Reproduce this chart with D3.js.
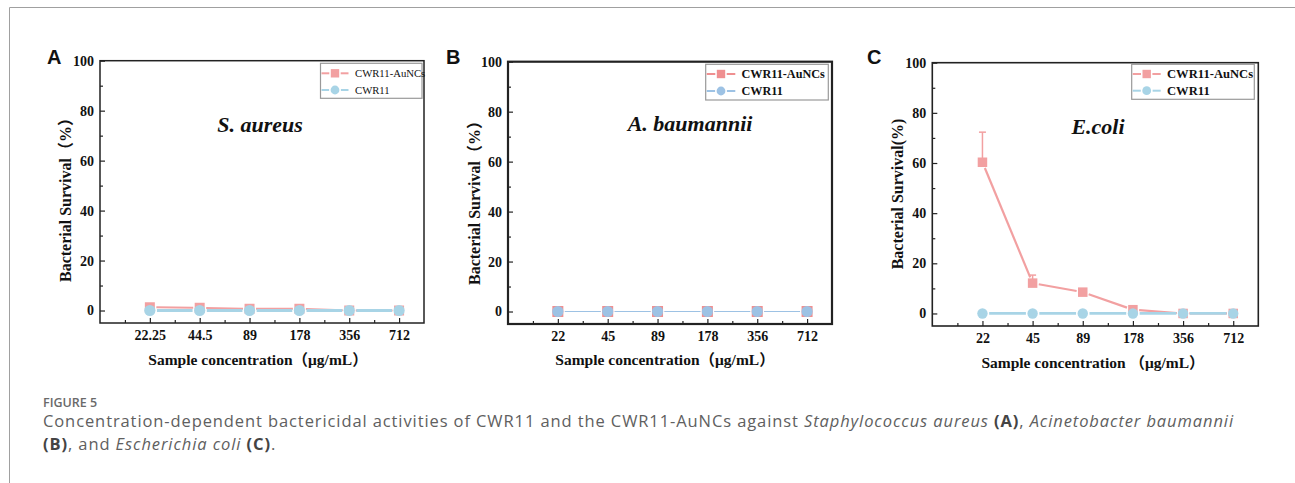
<!DOCTYPE html>
<html>
<head>
<meta charset="utf-8">
<script src="https://cdn.jsdelivr.net/npm/d3@7"></script>
<style>
body { margin: 0; background: #fff; }
.serif { font-family: "Liberation Serif", "Noto Sans CJK SC", serif; }
</style>
</head>
<body>
<svg id="fig" width="1295" height="483"></svg>
<script>
// concentrations (x categories)
const concA = ["22.25", "44.5", "89", "178", "356", "712"];
const concBC = ["22", "45", "89", "178", "356", "712"];
const yTicks = [0, 20, 40, 60, 80, 100];
const yMinorTicks = [10, 30, 50, 70, 90];
const seriesNames = ["CWR11-AuNCs", "CWR11"];

// A - S. aureus
const aureusAuNCs = [1.3, 1.1, 0.7, 0.7, 0, 0];
const aureusAuNCsErr = [1.4, 1.2, 1.0, 1.0, 0, 0];
const aureusCWR11 = [0, 0, 0, 0, 0, 0];

// B - A. baumannii
const baumanniiAuNCs = [0, 0, 0, 0, 0, 0];
const baumanniiAuNCsErr = [0, 0, 0, 0, 0, 0];
const baumanniiCWR11 = [0, 0, 0, 0, 0, 0];

// C - E. coli
const coliAuNCs = [60.3, 12.1, 8.5, 1.5, 0, 0];
const coliAuNCsErr = [12, 3.2, 1.3, 0.4, 0, 0];
const coliCWR11 = [0, 0, 0, 0, 0, 0];

const svg = d3.select("#fig");

// outer frame of the figure
svg.append("path").attr("d", "M9.5,483 V7.5 H1295")
    .attr("fill", "none").attr("stroke", "#a0a0a0").attr("stroke-width", 1);

const panels = [
    {label: "A", labelX: 47, cats: concA, title: "S. aureus", titleX: 260, titleY: 131.5,
     yLabel: "Bacterial Survival（%）", yLabelX: 65.5, yLabelY: 196, yLabelSize: 16,
     xLabel: "Sample concentration（μg/mL）", xLabelX: 258, xLabelY: 365, xLabelSize: 15.5,
     auncs: aureusAuNCs, err: aureusAuNCsErr, cwr: aureusCWR11,
     box: {l: 100, t: 60.7, r: 424, b: 323}, frameW: 1.5,
     pink: "#f2a0a1", blue: "#a8d4e6", pinkW: 2, blueW: 2.8, sq: 10, rad: 5.6,
     leg: {l: 320.5, t: 63.3, r: 422, b: 98.3, row1: 73.3, row2: 90, mx: 335, tx: 355, size: 10.7, weight: "normal"}},
    {label: "B", labelX: 446, cats: concBC, title: "A. baumannii", titleX: 690, titleY: 131,
     yLabel: "Bacterial Survival（%）", yLabelX: 474, yLabelY: 199, yLabelSize: 16,
     xLabel: "Sample concentration（μg/mL）", xLabelX: 665, xLabelY: 365, xLabelSize: 15.5,
     auncs: baumanniiAuNCs, err: baumanniiAuNCsErr, cwr: baumanniiCWR11,
     box: {l: 508, t: 61.7, r: 832, b: 324}, frameW: 2.2,
     pink: "#ef8f90", blue: "#9dc2e4", pinkW: 1, blueW: 1.2, sq: 11, rad: 5.6,
     leg: {l: 705.7, t: 64.3, r: 828.3, b: 100, row1: 74, row2: 91, mx: 721, tx: 741.5, size: 12.2, weight: "bold"}},
    {label: "C", labelX: 867, cats: concBC, title: "E.coli", titleX: 1098, titleY: 134,
     yLabel: "Bacterial Survival(%)", yLabelX: 897, yLabelY: 194, yLabelSize: 16,
     xLabel: "Sample concentration （μg/mL）", xLabelX: 1093, xLabelY: 368, xLabelSize: 15.5,
     auncs: coliAuNCs, err: coliAuNCsErr, cwr: coliCWR11,
     box: {l: 932.3, t: 62.7, r: 1258.3, b: 326}, frameW: 1.6,
     pink: "#f2a0a1", blue: "#a8d4e6", pinkW: 2.2, blueW: 2.8, sq: 9.5, rad: 5.2,
     leg: {l: 1131.7, t: 64.3, r: 1254.3, b: 99.3, row1: 74, row2: 90.7, mx: 1146.7, tx: 1167, size: 12.6, weight: "bold"}}
];

function segmentsWithGap(pts, gap) {
    const segs = [];
    for (let i = 0; i < pts.length - 1; i++) {
        const [x1, y1] = pts[i], [x2, y2] = pts[i + 1];
        const len = Math.hypot(x2 - x1, y2 - y1);
        if (len <= 2 * gap) continue;
        const ux = (x2 - x1) / len, uy = (y2 - y1) / len;
        segs.push([x1 + ux * gap, y1 + uy * gap, x2 - ux * gap, y2 - uy * gap]);
    }
    return segs;
}

function drawPanel(p) {
    const g = svg.append("g").attr("class", "serif");
    const x = d3.scaleLinear([-1, 5.5], [p.box.l, p.box.r]);
    const y = d3.scaleLinear([-5, 100], [p.box.b, p.box.t]);
    const idx = d3.range(p.cats.length);

    // x axis, ticks inside
    g.append("g").attr("transform", `translate(0,${p.box.b})`)
        .call(d3.axisBottom(x).tickValues(idx).tickFormat(i => p.cats[i]).tickSize(-5).tickPadding(7));
    g.append("g").attr("transform", `translate(0,${p.box.b})`)
        .call(d3.axisBottom(x).tickValues(idx.map(i => i - 0.5)).tickFormat("").tickSize(-3));
    g.append("g").attr("transform", `translate(${p.box.l},0)`)
        .call(d3.axisLeft(y).tickValues(yTicks).tickSize(-5).tickPadding(6));
    g.append("g").attr("transform", `translate(${p.box.l},0)`)
        .call(d3.axisLeft(y).tickValues(yMinorTicks).tickFormat("").tickSize(-3));
    g.selectAll(".domain").remove();
    g.selectAll(".tick line").attr("stroke", "#222").attr("stroke-width", 1.2);
    g.selectAll(".tick text").attr("font-family", "Liberation Serif").attr("font-weight", "bold")
        .attr("font-size", 14).attr("fill", "#111");

    // frame
    g.append("rect").attr("x", p.box.l).attr("y", p.box.t)
        .attr("width", p.box.r - p.box.l).attr("height", p.box.b - p.box.t)
        .attr("fill", "none").attr("stroke", "#222").attr("stroke-width", p.frameW);

    // pink series: lines, error bars, squares
    const pinkPts = idx.map(i => [x(i), y(p.auncs[i])]);
    g.append("g").selectAll("line").data(segmentsWithGap(pinkPts, p.sq / 2 + 1.5)).enter().append("line")
        .attr("x1", d => d[0]).attr("y1", d => d[1]).attr("x2", d => d[2]).attr("y2", d => d[3])
        .attr("stroke", p.pink).attr("stroke-width", p.pinkW);
    const errG = g.append("g").attr("stroke", p.pink).attr("stroke-width", 1.5);
    idx.filter(i => p.err[i] > 0).forEach(i => {
        errG.append("line").attr("x1", x(i)).attr("x2", x(i))
            .attr("y1", y(p.auncs[i])).attr("y2", y(p.auncs[i] + p.err[i]));
        errG.append("line").attr("x1", x(i) - 3.5).attr("x2", x(i) + 3.5)
            .attr("y1", y(p.auncs[i] + p.err[i])).attr("y2", y(p.auncs[i] + p.err[i]));
    });
    g.append("g").selectAll("rect").data(idx).enter().append("rect")
        .attr("x", i => x(i) - p.sq / 2).attr("y", i => y(p.auncs[i]) - p.sq / 2)
        .attr("width", p.sq).attr("height", p.sq).attr("fill", p.pink);

    // blue series
    const bluePts = idx.map(i => [x(i), y(p.cwr[i])]);
    g.append("g").selectAll("line").data(segmentsWithGap(bluePts, p.rad + 1.5)).enter().append("line")
        .attr("x1", d => d[0]).attr("y1", d => d[1]).attr("x2", d => d[2]).attr("y2", d => d[3])
        .attr("stroke", p.blue).attr("stroke-width", p.blueW);
    g.append("g").selectAll("circle").data(idx).enter().append("circle")
        .attr("cx", i => x(i)).attr("cy", i => y(p.cwr[i])).attr("r", p.rad).attr("fill", p.blue);

    // legend
    const L = p.leg;
    g.append("rect").attr("x", L.l).attr("y", L.t).attr("width", L.r - L.l).attr("height", L.b - L.t)
        .attr("fill", "#fff").attr("stroke", "#999").attr("stroke-width", 1.2);
    [[L.row1, p.pink, "sq"], [L.row2, p.blue, "ci"]].forEach(([ry, col, kind], k) => {
        const ms = kind === "sq" ? 4.2 : 4.4;
        g.append("line").attr("x1", L.l + 1).attr("x2", L.mx - ms - 1.5).attr("y1", ry).attr("y2", ry)
            .attr("stroke", col).attr("stroke-width", 2);
        g.append("line").attr("x1", L.mx + ms + 1.5).attr("x2", 2 * L.mx - L.l - 1).attr("y1", ry).attr("y2", ry)
            .attr("stroke", col).attr("stroke-width", 2);
        if (kind === "sq") {
            g.append("rect").attr("x", L.mx - ms).attr("y", ry - ms).attr("width", 2 * ms).attr("height", 2 * ms).attr("fill", col);
        } else {
            g.append("circle").attr("cx", L.mx).attr("cy", ry).attr("r", ms).attr("fill", col);
        }
        g.append("text").attr("x", L.tx).attr("y", ry).attr("dy", "0.35em")
            .attr("font-size", L.size).attr("font-weight", L.weight).attr("fill", "#111")
            .text(seriesNames[k]);
    });

    // species title
    g.append("text").attr("x", p.titleX).attr("y", p.titleY).attr("text-anchor", "middle")
        .attr("font-size", 22).attr("font-weight", "bold").attr("font-style", "italic").attr("fill", "#111")
        .text(p.title);

    // axis titles
    g.append("text").attr("transform", `translate(${p.yLabelX},${p.yLabelY}) rotate(-90)`)
        .attr("text-anchor", "middle").attr("dy", "0.35em")
        .attr("font-size", p.yLabelSize).attr("font-weight", "bold").attr("fill", "#111")
        .text(p.yLabel);
    g.append("text").attr("x", p.xLabelX).attr("y", p.xLabelY).attr("text-anchor", "middle")
        .attr("font-size", p.xLabelSize).attr("font-weight", "bold").attr("fill", "#111")
        .text(p.xLabel);

    // panel letter
    svg.append("text").attr("x", p.labelX).attr("y", 64)
        .attr("font-family", "Liberation Sans, Arial, sans-serif").attr("font-size", 20)
        .attr("font-weight", "bold").attr("fill", "#111").text(p.label);
}

panels.forEach(drawPanel);

// caption
const cap = svg.append("g").attr("font-family", "Open Sans, sans-serif").attr("fill", "#606060");
cap.append("text").attr("x", 43).attr("y", 407).attr("font-size", 12.5).attr("font-weight", 600)
    .attr("fill", "#6a6a6a").text("FIGURE 5");
const line1 = cap.append("text").attr("x", 43).attr("y", 427).attr("font-size", 16.5).attr("letter-spacing", 0.9);
line1.append("tspan").text("Concentration-dependent bactericidal activities of CWR11 and the CWR11-AuNCs against ");
line1.append("tspan").attr("font-style", "italic").text("Staphylococcus aureus");
line1.append("tspan").text(" ");
line1.append("tspan").attr("font-weight", "bold").attr("fill", "#444").text("(A)");
line1.append("tspan").text(", ");
line1.append("tspan").attr("font-style", "italic").text("Acinetobacter baumannii");
const line2 = cap.append("text").attr("x", 43).attr("y", 450).attr("font-size", 16.5).attr("letter-spacing", 0.9);
line2.append("tspan").attr("font-weight", "bold").attr("fill", "#444").text("(B)");
line2.append("tspan").text(", and ");
line2.append("tspan").attr("font-style", "italic").text("Escherichia coli");
line2.append("tspan").text(" ");
line2.append("tspan").attr("font-weight", "bold").attr("fill", "#444").text("(C)");
line2.append("tspan").text(".");
</script>
</body>
</html>
